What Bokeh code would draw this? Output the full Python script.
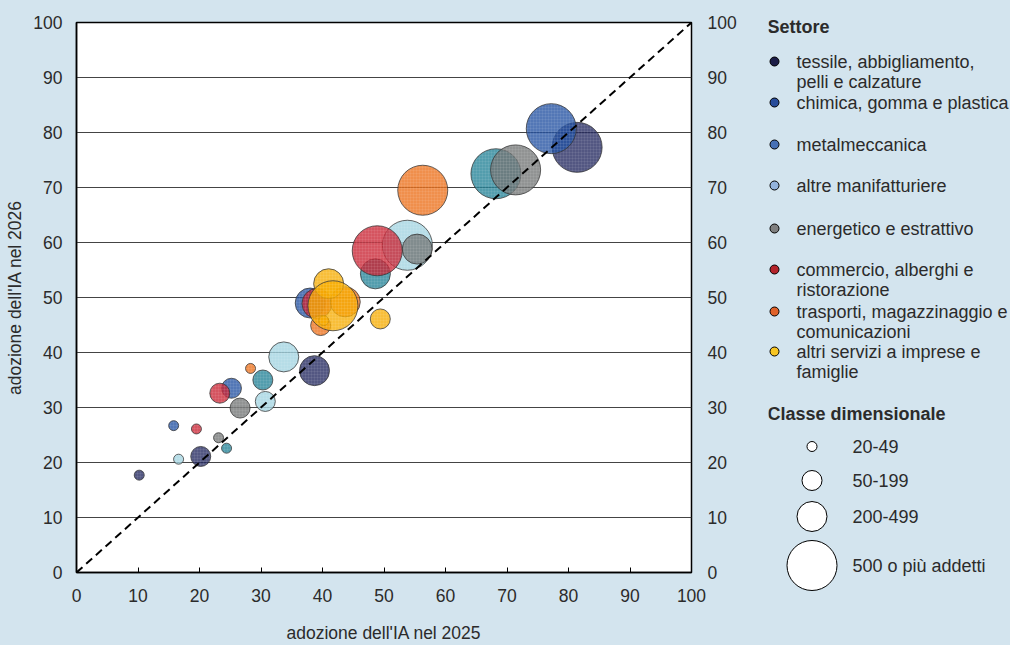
from bokeh.plotting import figure
from bokeh.models import Range1d, LinearAxis, FixedTicker, ColumnDataSource
from bokeh.layouts import row
from bokeh.core.properties import value
from bokeh.embed import file_html
from bokeh.resources import INLINE

# ---------------- data ----------------
sectors = ["tessile, abbigliamento, pelli e calzature",
           "chimica, gomma e plastica",
           "metalmeccanica",
           "altre manifatturiere",
           "energetico e estrattivo",
           "commercio, alberghi e ristorazione",
           "trasporti, magazzinaggio e comunicazioni",
           "altri servizi a imprese e famiglie"]
size_classes = ["20-49", "50-199", "200-499", "500 o più addetti"]

# adoption 2025 (x) and 2026 (y), per sector, in size-class order
x_tessile = [10.2, 20.2, 38.7, 81.4]
y_tessile = [17.7, 21.1, 36.7, 77.3]
x_chimica = [15.8, 25.2, 38.0, 77.2]
y_chimica = [26.7, 33.5, 49.0, 80.7]
x_metal = [24.4, 30.3, 48.6, 68.2]
y_metal = [22.6, 35.0, 54.3, 72.5]
x_altre_man = [16.6, 30.7, 33.7, 53.8]
y_altre_man = [20.6, 31.1, 39.2, 59.5]
x_energ = [23.1, 26.6, 55.4, 71.4]
y_energ = [24.5, 29.9, 58.8, 73.2]
x_commercio = [19.5, 23.3, 39.1, 48.9]
y_commercio = [26.1, 32.6, 48.9, 58.5]
x_trasporti = [28.3, 39.7, 43.7, 56.3]
y_trasporti = [37.1, 44.9, 49.2, 69.5]
x_servizi = [40.2, 49.4, 41.0, 41.7]
y_servizi = [45.8, 46.1, 52.5, 48.5]

ticks = [0, 10, 20, 30, 40, 50, 60, 70, 80, 90, 100]

# ---------------- styles ----------------
BG = "#d3e4ee"
FONT = "Liberation Sans"
TXT = "#2b2b2b"
bubble_colors = ["#23285f", "#2351a1", "#228196", "#a2d4e0",
                 "#727475", "#c92433", "#ec6f1a", "#f6ac01"]
legend_colors = ["#1b1d47", "#274c9a", "#4670b5", "#93b3dc",
                 "#7f7f7f", "#b3232a", "#e0622a", "#f7c522"]
class_sizes = [10, 20, 30, 50]

xs_all = [x_tessile, x_chimica, x_metal, x_altre_man, x_energ, x_commercio, x_trasporti, x_servizi]
ys_all = [y_tessile, y_chimica, y_metal, y_altre_man, y_energ, y_commercio, y_trasporti, y_servizi]

# ---------------- main chart ----------------
p = figure(width=768, height=645, x_range=Range1d(0, 100), y_range=Range1d(0, 100),
           output_backend="svg", toolbar_location=None,
           min_border_left=76, min_border_right=77, min_border_top=22, min_border_bottom=73)
p.frame_align = False
p.background_fill_color = "white"
p.border_fill_color = BG
p.outline_line_color = "black"
p.outline_line_width = 1.5
p.xgrid.visible = False
p.ygrid.ticker = FixedTicker(ticks=ticks)
p.ygrid.grid_line_color = "#444444"
p.ygrid.grid_line_width = 1

p.xaxis.ticker = FixedTicker(ticks=ticks)
p.yaxis.ticker = FixedTicker(ticks=ticks)
p.xaxis.major_tick_in = 5
p.xaxis.major_tick_out = 0
p.xaxis.major_tick_line_color = "black"
p.xaxis.minor_tick_line_color = None
p.yaxis.major_tick_line_color = None
p.yaxis.minor_tick_line_color = None
p.yaxis.major_tick_in = 0
p.yaxis.major_tick_out = 0
p.xaxis.axis_line_color = "black"
p.xaxis.axis_line_width = 1.5
p.yaxis.axis_line_color = "black"
p.yaxis.axis_line_width = 1.5
p.xaxis.major_label_standoff = 16
p.yaxis.major_label_standoff = 14
for ax in (p.xaxis, p.yaxis):
    ax.major_label_text_font = FONT
    ax.major_label_text_font_size = "17.5px"
    ax.major_label_text_color = TXT
    ax.axis_label_text_font = FONT
    ax.axis_label_text_font_size = "17.5px"
    ax.axis_label_text_font_style = "normal"
    ax.axis_label_text_color = TXT
p.xaxis.axis_label = "adozione dell'IA nel 2025"
p.yaxis.axis_label = "adozione dell'IA nel 2026"
p.xaxis.axis_label_standoff = 18
p.yaxis.axis_label_standoff = 5

right_axis = LinearAxis(ticker=FixedTicker(ticks=ticks))
right_axis.major_tick_line_color = None
right_axis.minor_tick_line_color = None
right_axis.major_tick_in = 0
right_axis.major_tick_out = 0
right_axis.axis_line_color = None
right_axis.major_label_standoff = 16
right_axis.major_label_text_font = FONT
right_axis.major_label_text_font_size = "17.5px"
right_axis.major_label_text_color = TXT
p.add_layout(right_axis, "right")

for xs, ys, col in zip(xs_all, ys_all, bubble_colors):
    src = ColumnDataSource(dict(x=xs, y=ys, s=class_sizes))
    p.scatter("x", "y", size="s", source=src, marker="circle",
              fill_color=col, fill_alpha=0.78,
              line_color="#333333", line_alpha=0.75, line_width=1,
              hatch_pattern="+", hatch_color="white", hatch_alpha=0.12,
              hatch_scale=3, hatch_weight=0.6)

p.line([0, 100], [0, 100], line_color="black", line_width=2, line_dash="8 5")

# ---------------- legend panel ----------------
lg = figure(width=242, height=645, x_range=Range1d(768, 1010), y_range=Range1d(645, 0),
            output_backend="svg", toolbar_location=None,
            min_border_left=0, min_border_right=0, min_border_top=0, min_border_bottom=0)
lg.frame_align = False
lg.axis.visible = False
lg.grid.visible = False
lg.outline_line_color = None
lg.background_fill_color = BG
lg.border_fill_color = BG

LFS = "18px"
lg.text([767], [26], text=["Settore"], text_font=value(FONT), text_font_size=LFS,
        text_font_style="bold", text_color=TXT, text_baseline="middle")
dot_y = [61, 102, 144, 185, 228, 269, 311, 351]
lg.scatter([774] * 8, dot_y, size=9, marker="circle", fill_color=legend_colors,
           line_color="black", line_width=1)
lines = [["tessile, abbigliamento,", "pelli e calzature"],
         ["chimica, gomma e plastica"],
         ["metalmeccanica"],
         ["altre manifatturiere"],
         ["energetico e estrattivo"],
         ["commercio, alberghi e", "ristorazione"],
         ["trasporti, magazzinaggio e", "comunicazioni"],
         ["altri servizi a imprese e", "famiglie"]]
tx, ty, tt = [], [], []
for yy, ls in zip(dot_y, lines):
    for k, t in enumerate(ls):
        tx.append(796)
        ty.append(yy + 20 * k)
        tt.append(t)
lg.text(tx, ty, text=tt, text_font=value(FONT), text_font_size=LFS,
        text_color=TXT, text_baseline="middle")

lg.text([767], [413], text=["Classe dimensionale"], text_font=value(FONT),
        text_font_size=LFS, text_font_style="bold", text_color=TXT, text_baseline="middle")
size_y = [446, 480, 516, 565]
lg.scatter([811.5] * 4, size_y, size=class_sizes, marker="circle", fill_color="white",
           line_color="black", line_width=1)
lg.text([852] * 4, size_y, text=size_classes, text_font=value(FONT), text_font_size=LFS,
        text_color=TXT, text_baseline="middle")

layout = row(p, lg, spacing=0)
html = file_html(layout, INLINE)
css = ("<style>html,body{margin:0;padding:0;background-color:%s;overflow:hidden;}</style>" % BG)
html = html.replace("</head>", css + "</head>", 1)
open("out.html", "w").write(html)
